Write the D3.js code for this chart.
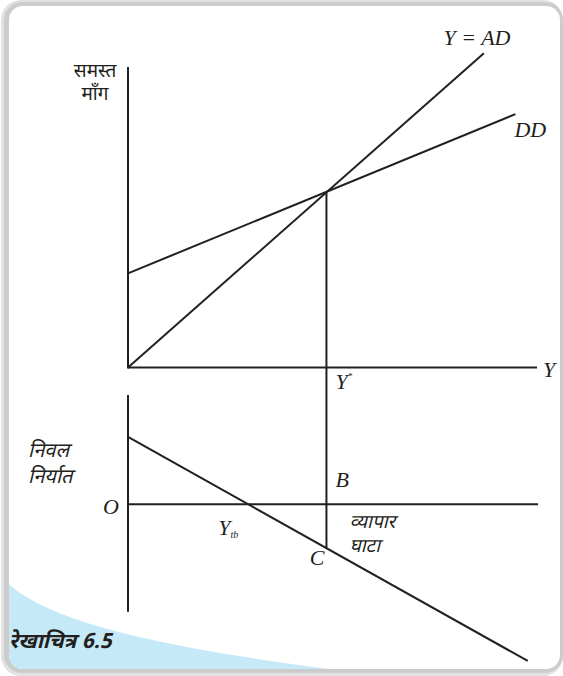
<!DOCTYPE html>
<html>
<head>
<meta charset="utf-8">
<script src="https://cdn.jsdelivr.net/npm/d3@7"></script>
<style>
  html, body { margin: 0; padding: 0; background: #ffffff; }
  svg { display: block; }
  .lat { font-family: "Liberation Serif", "DejaVu Serif", serif; font-style: italic; fill: #231f20; }
  .dev { font-family: "Noto Sans Devanagari", "Noto Serif Devanagari", "Lohit Devanagari", "Noto Sans", sans-serif; fill: #231f20; }
</style>
</head>
<body>
<div id="chart"></div>
<script>
// ---- data (economic units) ----
const xAxisExtent = [0, 10];          // output Y axis
const topAxisExtent = [0, 8.3];       // aggregate demand axis
const bottomAxisExtent = [3.0, -2.95];// net exports axis
const adX = [0, 8.68];  const adY = [0, 8.68];    // Y = AD (45° line)
const ddX = [0, 9.45];  const ddY = [2.6, 7.0];   // DD
const nxX = [0, 9.75];  const nxY = [1.85, -4.3]; // net exports
const yStar = 4.84;     // equilibrium output Y*
const yTb = 2.93;       // trade balance output Y_tb
const labels = {
  ad: "Y = AD", dd: "DD", y: "Y", ystar: "Y", b: "B", o: "O", ytb: "Y", c: "C",
  topAxis: ["समस्त", "माँग"], bottomAxis: ["निवल", "निर्यात"],
  deficit: ["व्यापार", "घाटा"], caption: "रेखाचित्र 6.5"
};

const W = 563, H = 676;
const svg = d3.select("#chart").append("svg").attr("width", W).attr("height", H);

// ---- panel frame ----
svg.append("rect").attr("x", 1).attr("y", 0).attr("width", 562).attr("height", 676)
  .attr("rx", 20).attr("fill", "#e2e2e2");
svg.append("rect").attr("x", 4).attr("y", 2).attr("width", 559).attr("height", 671)
  .attr("rx", 18).attr("fill", "#cccccc");
const defs = svg.append("defs");
defs.append("clipPath").attr("id", "panelClip").append("rect")
  .attr("x", 9).attr("y", 6).attr("width", 551).attr("height", 663).attr("rx", 14);
svg.append("rect").attr("x", 9).attr("y", 6).attr("width", 551).attr("height", 663)
  .attr("rx", 14).attr("fill", "#ffffff");
svg.append("path").attr("clip-path", "url(#panelClip)")
  .attr("d", "M0,576 C 35,614 120,643 345,671 L 345,680 L 0,680 Z")
  .attr("fill", "#c6e9f8");

// ---- scales ----
const x = d3.scaleLinear().domain([0, 10]).range([128, 538]);
const yT = d3.scaleLinear().domain([0, 8.3]).range([367.5, 67]);
const yB = d3.scaleLinear().domain([0, 3.0]).range([504.3, 395]);

const g = svg.append("g");
const ink = "#231f20";
const seg = (x1, y1, x2, y2, w) => g.append("line")
  .attr("x1", x1).attr("y1", y1).attr("x2", x2).attr("y2", y2)
  .attr("stroke", ink).attr("stroke-width", w || 2);

// axes
seg(x(0), yT(topAxisExtent[1]), x(0), yT(topAxisExtent[0]) + 1);
seg(x(0), yT(0), x(xAxisExtent[1]) - 1, yT(0));
seg(x(0), yB(bottomAxisExtent[0]), x(0), yB(bottomAxisExtent[1]));
seg(x(0), yB(0), x(xAxisExtent[1]), yB(0));

// lines
const line = (sy) => d3.line().x(d => x(d[0])).y(d => sy(d[1]));
g.append("path").attr("d", line(yT)(d3.zip(adX, adY))).attr("fill", "none").attr("stroke", ink).attr("stroke-width", 2);
g.append("path").attr("d", line(yT)(d3.zip(ddX, ddY))).attr("fill", "none").attr("stroke", ink).attr("stroke-width", 2);
g.append("path").attr("d", line(yB)(d3.zip(nxX, nxY))).attr("fill", "none").attr("stroke", ink).attr("stroke-width", 2);

// vertical at Y*
const nxAt = v => nxY[0] + (nxY[1] - nxY[0]) * (v - nxX[0]) / (nxX[1] - nxX[0]);
seg(x(yStar), yT(yStar), x(yStar), yB(nxAt(yStar)));

// ---- text ----
const txt = (cls, s, px, py, size, anchor, extra) => {
  const t = g.append("text").attr("class", cls).attr("x", px).attr("y", py)
    .attr("font-size", size).attr("text-anchor", anchor || "start").text(s);
  if (extra) extra(t);
  return t;
};
txt("lat", labels.ad, 477, 45, 22, "middle");
txt("lat", labels.dd, x(ddX[1]) - 1, 137, 22, "start");
txt("lat", labels.y, x(xAxisExtent[1]) + 5, 377, 22, "start");
const ys = txt("lat", labels.ystar, x(yStar) + 9, 389, 22, "start");
ys.append("tspan").attr("font-size", 9).attr("dy", -10).text("*");
txt("lat", labels.b, x(yStar) + 9, 487, 22, "start");
txt("lat", labels.o, x(0) - 9, 514, 22, "end");
const yt = txt("lat", labels.ytb, x(yTb) - 30, 535, 22, "start");
yt.append("tspan").attr("font-size", 10).attr("dy", 3).text("tb");
txt("lat", labels.c, x(yStar) - 2, 565, 22, "end");

txt("dev", labels.topAxis[0], 95, 77, 19, "middle");
txt("dev", labels.topAxis[1], 95, 100, 19, "middle");
txt("dev", labels.bottomAxis[0], 28, 457, 20, "start", t => t.attr("font-style", "italic"));
txt("dev", labels.bottomAxis[1], 28, 483, 20, "start", t => t.attr("font-style", "italic"));
txt("dev", labels.deficit[0], x(yStar) + 23, 528, 19, "start", t => t.attr("font-style", "italic"));
txt("dev", labels.deficit[1], x(yStar) + 23, 552, 19, "start", t => t.attr("font-style", "italic"));
txt("dev", labels.caption, 9, 648, 21, "start", t => t.attr("font-style", "italic").attr("font-weight", "bold"));
</script>
</body>
</html>
